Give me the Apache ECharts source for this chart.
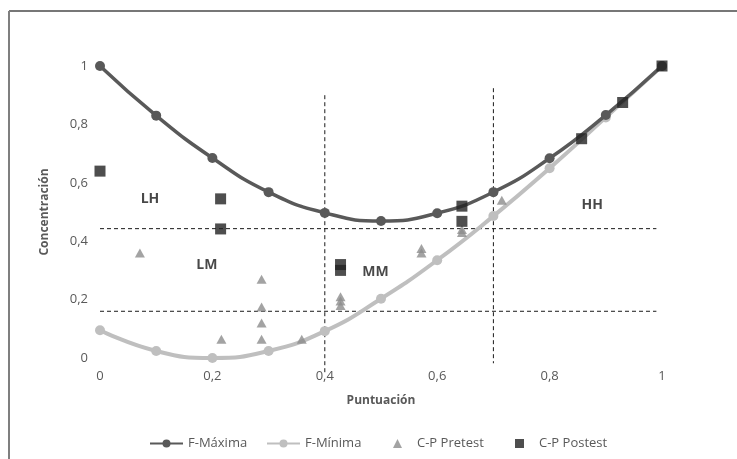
<!DOCTYPE html>
<html>
<head>
<meta charset="utf-8">
<script src="https://cdn.jsdelivr.net/npm/echarts@6/dist/echarts.min.js"></script>
<style>html,body{margin:0;padding:0;background:#fff}#c{width:737px;height:459px}</style>
</head>
<body>
<div id="c"></div>
<script>
const xTicks = [0, 0.2, 0.4, 0.6, 0.8, 1];
const yTicks = [0, 0.2, 0.4, 0.6, 0.8, 1];
const xs = [0, 0.1, 0.2, 0.3, 0.4, 0.5, 0.6, 0.7, 0.8, 0.9, 1];
const fMaxima = [1.0, 0.83, 0.685, 0.568, 0.497, 0.469, 0.496, 0.568, 0.684, 0.832, 1.0];
const fMinima = [0.095, 0.024, 0.0, 0.024, 0.092, 0.203, 0.335, 0.486, 0.65, 0.824, 1.0];
const pretestX = [0.071, 0.216, 0.2875, 0.2875, 0.2875, 0.2875, 0.359, 0.428, 0.428, 0.428, 0.572, 0.572, 0.644, 0.644, 0.715];
const pretestY = [0.36, 0.064, 0.27, 0.175, 0.12, 0.064, 0.064, 0.21, 0.195, 0.18, 0.375, 0.36, 0.44, 0.43, 0.54];
const postestX = [0, 0.2146, 0.2146, 0.428, 0.428, 0.644, 0.644, 0.857, 0.93, 1];
const postestY = [0.64, 0.545, 0.442, 0.32, 0.30, 0.52, 0.468, 0.751, 0.875, 1.0];
const vLine1 = [[0.4, 0.9], [0.4, -0.055]];
const vLine2 = [[0.7, 0.924], [0.7, -0.018]];
const hLineHigh = [[0, 0.443], [0.99, 0.443]];
const hLineLow = [[0, 0.16], [0.99, 0.16]];
const regionNames = ['LH', 'LM', 'MM', 'HH'];
const regionX = [0.089, 0.19, 0.49, 0.876];
const regionY = [0.545, 0.317, 0.295, 0.524];

const FONT = '"Open Sans", sans-serif';
const fmt = v => String(v).replace('.', ',');
const zip = (a, b) => a.map((v, i) => [v, b[i]]);

const dashed = (data) => ({
  type: 'line', data: data, symbol: 'none', silent: true, clip: false,
  lineStyle: { color: '#1a1a1a', width: 1, type: [4, 3] }, z: 1, animation: false
});

const chart = echarts.init(document.getElementById('c'), null, { renderer: 'canvas' });
chart.setOption({
  animation: false,
  backgroundColor: '#fff',
  textStyle: { fontFamily: FONT },
  grid: { left: 100, right: 75, top: 66, bottom: 101 },
  xAxis: {
    type: 'value', min: 0, max: 1, interval: 0.2,
    name: 'Puntuación', nameLocation: 'middle', nameGap: 37,
    nameTextStyle: { fontFamily: FONT, fontSize: 12, fontWeight: 'bold', color: '#595959' },
    axisLine: { show: false }, axisTick: { show: false }, splitLine: { show: false },
    axisLabel: { margin: 12, fontFamily: FONT, fontSize: 13, color: '#595959',
      formatter: v => xTicks.includes(+v.toFixed(2)) ? fmt(+v.toFixed(2)) : '' }
  },
  yAxis: {
    type: 'value', min: 0, max: 1, interval: 0.2,
    name: 'Concentración', nameLocation: 'middle', nameGap: 49, nameRotate: 90,
    nameTextStyle: { fontFamily: FONT, fontSize: 12, fontWeight: 'bold', color: '#595959' },
    axisLine: { show: false }, axisTick: { show: false }, splitLine: { show: false },
    axisLabel: { margin: 12, fontFamily: FONT, fontSize: 13, color: '#595959',
      formatter: v => yTicks.includes(+v.toFixed(2)) ? fmt(+v.toFixed(2)) : '' }
  },
  legend: [
    { data: ['F-Máxima'], left: 144, top: 432, itemWidth: 33, itemHeight: 10,
      textStyle: { fontFamily: FONT, fontSize: 13, color: '#595959' } },
    { data: ['F-Mínima'], left: 261, top: 432, itemWidth: 33, itemHeight: 10,
      textStyle: { fontFamily: FONT, fontSize: 13, color: '#595959' } },
    { data: ['C-P Pretest'], left: 388, top: 432, itemWidth: 9, itemHeight: 9,
      textStyle: { fontFamily: FONT, fontSize: 13, color: '#595959', padding: [0, 0, 0, 10] } },
    { data: ['C-P Postest'], left: 510, top: 432, itemWidth: 9, itemHeight: 9,
      textStyle: { fontFamily: FONT, fontSize: 13, color: '#595959', padding: [0, 0, 0, 10] } }
  ],
  graphic: [
    { type: 'line', shape: { x1: 9, y1: 11, x2: 737, y2: 11 }, style: { stroke: '#4a4a4a', lineWidth: 1.5 } },
    { type: 'line', shape: { x1: 9, y1: 11, x2: 9, y2: 459 }, style: { stroke: '#7f7f7f', lineWidth: 2 } }
  ],
  series: [
    dashed(vLine1), dashed(vLine2), dashed(hLineHigh), dashed(hLineLow),
    {
      name: 'F-Mínima', type: 'line', data: zip(xs, fMinima), smooth: 0.5,
      symbol: 'circle', symbolSize: 10, clip: false,
      lineStyle: { color: '#bfbfbf', width: 4 }, itemStyle: { color: '#bfbfbf' }, z: 3
    },
    {
      name: 'F-Máxima', type: 'line', data: zip(xs, fMaxima), smooth: 0.5,
      symbol: 'circle', symbolSize: 10, clip: false,
      lineStyle: { color: '#595959', width: 3.5 }, itemStyle: { color: '#595959' }, z: 4
    },
    {
      name: 'C-P Pretest', type: 'scatter', data: zip(pretestX, pretestY),
      symbol: 'triangle', symbolSize: [10, 9], clip: false,
      itemStyle: { color: '#8c8c8c' }, z: 5
    },
    {
      name: 'C-P Postest', type: 'scatter', data: zip(postestX, postestY),
      symbol: 'rect', symbolSize: 11, clip: false,
      itemStyle: { color: '#222222' }, z: 6
    },
    {
      type: 'scatter', silent: true, symbolSize: 1, clip: false,
      itemStyle: { color: 'rgba(0,0,0,0)' },
      data: regionNames.map((n, i) => ({ name: n, value: [regionX[i], regionY[i]] })),
      label: { show: true, position: 'inside', formatter: p => p.name,
        fontFamily: FONT, fontSize: 14, fontWeight: 'bold', color: '#1a1a1a' },
      z: 7
    }
  ]
});
</script>
</body>
</html>
